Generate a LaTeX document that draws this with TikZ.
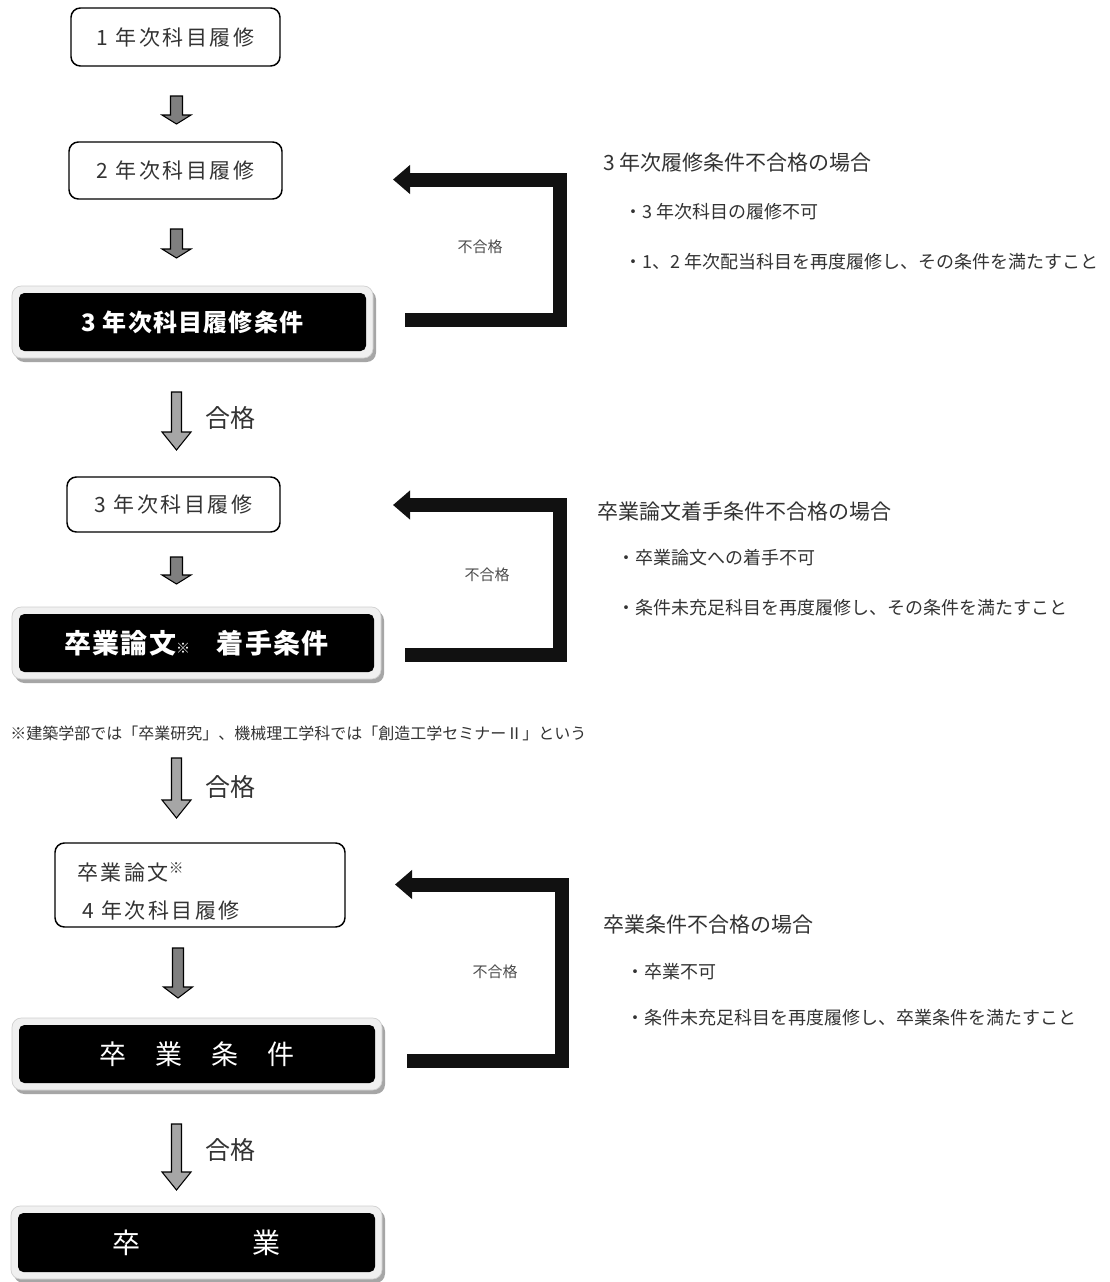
\documentclass[tikz,border=0pt]{standalone}
\usepackage{fontspec}
\setmainfont{Noto Sans CJK JP}
\newfontfamily\jps[LetterSpace=12]{Noto Sans CJK JP}
\newfontfamily\jpt[LetterSpace=5]{Noto Sans CJK JP}
\usetikzlibrary{arrows.meta,calc}
\definecolor{txt}{HTML}{333333}
\definecolor{shadowgray}{HTML}{A6A6A6}
\definecolor{framegray}{HTML}{F0F0F0}
\definecolor{frameedge}{HTML}{D0D0D0}
\definecolor{darrow}{HTML}{7F7F7F}
\definecolor{larrow}{HTML}{A6A6A6}
\definecolor{fbblack}{HTML}{111111}
\newcommand\fs[1]{\fontsize{#1pt}{#1pt}\selectfont}
% black condition box: name, inner x1,y1,x2,y2, font, text
\newcommand\bbox[7]{%
  \fill[shadowgray,rounded corners=7pt] (#2-4,#3-3) rectangle (#4+10,#5+11);
  \filldraw[fill=framegray,draw=frameedge,line width=0.5pt,rounded corners=7pt] (#2-7,#3-7) rectangle (#4+7,#5+7);
  \node[fill=black,rounded corners=4pt,text=white,inner sep=0pt,font=#6,
        minimum width={(#4-#2)*0.75pt},minimum height={(#5-#3)*0.75pt}] (#1) at ({(#2+#4)/2},{(#3+#5)/2}) {#7};}
% gray block arrow: x centre, top y, tip y, head length, shaft half width, fill
\newcommand\garrow[6]{%
  \filldraw[fill=#6,draw=black,line width=0.8pt] (#1-#5,#2) -- (#1+#5,#2) -- (#1+#5,#3-#4) -- (#1+14.5,#3-#4) -- (#1,#3) -- (#1-14.5,#3-#4) -- (#1-#5,#3-#4) -- cycle;}
\tikzset{
  wbox/.style={draw=black,line width=1.1pt,rounded corners=7pt,fill=white,text=txt,inner sep=0pt,font=\jps\fs{15.75}},
  fb/.style={draw=fbblack,line width=10.5pt,line join=miter,-{Triangle[width=21pt,length=12.75pt]}},
  fblabel/.style={text=black!70,font=\fs{11.25},inner sep=0pt},
  passlabel/.style={text=txt,font=\fs{18.75},inner sep=0pt},
  head/.style={anchor=west,text=txt,font=\fs{15.75},inner sep=0pt},
  item/.style={anchor=west,text=txt,font=\fs{13.5},inner sep=0pt}
}
\begin{document}
\begin{tikzpicture}[x=0.75pt,y=-0.75pt]
\useasboundingbox[fill=white] (0,0) rectangle (1110,1282);

% white boxes
\node[wbox,minimum width=156.75pt,minimum height=43.5pt] (b1) at (175.5,37) {1 年次科目履修};
\node[wbox,minimum width=159.75pt,minimum height=42.75pt] (b2) at (175.5,170.5) {2 年次科目履修};
\node[wbox,minimum width=159.75pt,minimum height=41.25pt] (b4) at (173.5,504.5) {3 年次科目履修};
\node[wbox,minimum width=217.5pt,minimum height=63pt] (b7) at (200,885) {};
\node[anchor=west,text=txt,font=\jps\fs{15.75},inner sep=0pt] (b7a) at (77,872) {卒業論文\textsuperscript{※}};
\node[anchor=west,text=txt,font=\jps\fs{15.75},inner sep=0pt] (b7b) at (82,910) {4 年次科目履修};

% black boxes
\bbox{k3}{19}{293}{366}{351}{\jpt\bfseries\fs{18}}{3 年次科目履修条件}
\bbox{k5}{19}{614}{374}{672}{\jpt\bfseries\fs{20.25}}{卒業論文{\mdseries\fs{10.5}※}\hspace{20pt}着手条件}
\bbox{k8}{19}{1025}{375}{1083}{\fs{20.25}}{卒\hspace{21.75pt}業\hspace{21.75pt}条\hspace{21.75pt}件}
\bbox{k9}{18}{1213}{375}{1272}{\fs{21}}{卒\hspace{84pt}業}

% gray arrows
\garrow{176.5}{96}{124}{9}{6}{darrow}
\garrow{176.5}{229}{258}{9}{6}{darrow}
\garrow{176.5}{392}{450}{18}{5}{larrow}
\garrow{176.5}{557}{584}{9}{6}{darrow}
\garrow{176.5}{758}{818}{18}{5}{larrow}
\garrow{178}{948}{998}{11}{5.5}{darrow}
\garrow{176.5}{1124}{1190}{18}{5}{larrow}

\node[passlabel] (p1) at (230,418) {合格};
\node[passlabel] (p2) at (230,787) {合格};
\node[passlabel] (p3) at (230,1150) {合格};

% feedback arrows
\coordinate (f1s) at (405,319.5);
\coordinate (f1a) at (560,319.5);
\coordinate (f1b) at (560,179.5);
\coordinate (f1e) at (393,179.5);
\draw[fb] (f1s) -- (f1a) -- (f1b) -- (f1e);
\node[fblabel] (n1) at (480,247) {不合格};

\coordinate (f2s) at (405,655);
\coordinate (f2a) at (560,655);
\coordinate (f2b) at (560,505);
\coordinate (f2e) at (393,505);
\draw[fb] (f2s) -- (f2a) -- (f2b) -- (f2e);
\node[fblabel] (n2) at (487,575) {不合格};

\coordinate (f3s) at (407,1060.5);
\coordinate (f3a) at (561.5,1060.5);
\coordinate (f3b) at (561.5,884.5);
\coordinate (f3e) at (395,884.5);
\draw[fb] (f3s) -- (f3a) -- (f3b) -- (f3e);
\node[fblabel] (n3) at (495,972) {不合格};

% right-hand notes
\node[head] (h1) at (603,163) {3 年次履修条件不合格の場合};
\node[item] (h1a) at (624,212) {・3 年次科目の履修不可};
\node[item] (h1b) at (624,262) {・1、2 年次配当科目を再度履修し、その条件を満たすこと};

\node[head] (h2) at (597,512) {卒業論文着手条件不合格の場合};
\node[item] (h2a) at (617,558) {・卒業論文への着手不可};
\node[item] (h2b) at (617,608) {・条件未充足科目を再度履修し、その条件を満たすこと};

\node[head] (h3) at (603,925) {卒業条件不合格の場合};
\node[item] (h3a) at (626,972) {・卒業不可};
\node[item] (h3b) at (626,1018) {・条件未充足科目を再度履修し、卒業条件を満たすこと};

% footnote
\node[anchor=west,text=txt,font=\fs{12},inner sep=0pt] (fn) at (10,733) {※建築学部では「卒業研究」、機械理工学科では「創造工学セミナーⅡ」という};
\end{tikzpicture}
\end{document}
